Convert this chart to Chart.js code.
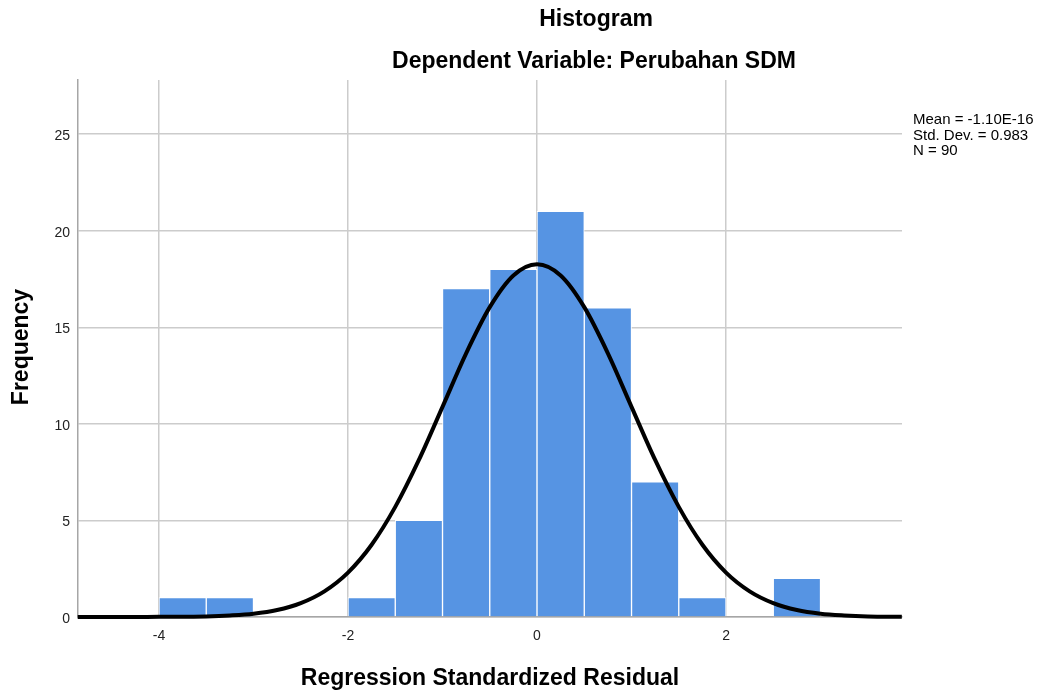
<!DOCTYPE html>
<html lang="en">
<head>
    <meta charset="UTF-8">
    <script src="https://cdn.jsdelivr.net/npm/chart.js@4.4.1/dist/chart.umd.min.js"></script>
    <title>Histogram</title>
    <style>
        html, body { margin: 0; padding: 0; background: #fff; }
        #wrap { width: 1051px; height: 691px; }
    </style>
</head>
<body>
    <div id="wrap">
        <canvas id="canvas" width="1051" height="691"></canvas>
    </div>
<script>

// histogram bins (centre of each 0.5 wide bin) and counts
const binCenters = [-3.75, -3.25, -2.75, -2.25, -1.75, -1.25, -0.75, -0.25, 0.25, 0.75, 1.25, 1.75, 2.25, 2.75]
const frequencies = [1, 1, 0, 0, 1, 5, 17, 18, 21, 16, 7, 1, 0, 2]

// normal curve
const curveX = [-4.86, -4.5, -4.25, -4, -3.75, -3.5, -3.25, -3, -2.75, -2.5, -2.25, -2, -1.75, -1.5, -1.25, -1, -0.75, -0.5, -0.25,
                0, 0.25, 0.5, 0.75, 1, 1.25, 1.5, 1.75, 2, 2.25, 2.5, 2.75, 3, 3.25, 3.5, 3.86]
const curveY = [0, 0, 0, 0.01, 0.01, 0.03, 0.08, 0.17, 0.36, 0.72, 1.33, 2.30, 3.74, 5.70, 8.13, 10.88, 13.65, 16.04, 17.68,
                18.26, 17.68, 16.04, 13.65, 10.88, 8.13, 5.70, 3.74, 2.30, 1.33, 0.72, 0.36, 0.17, 0.08, 0.03, 0.01]

const xTicks = [-4, -2, 0, 2]
const yTicks = [0, 5, 10, 15, 20, 25]

const statsLines = ['Mean = -1.10E-16', 'Std. Dev. = 0.983', 'N = 90']

const FONT = "'Liberation Sans', Arial, sans-serif"

const textPlugin = {
    id: 'texts',
    afterDraw(chart) {
        const ctx = chart.ctx
        ctx.save()
        ctx.fillStyle = '#000'
        ctx.textAlign = 'center'
        ctx.textBaseline = 'alphabetic'
        ctx.font = 'bold 23px ' + FONT
        ctx.fillText('Histogram', 596, 26)
        ctx.fillText('Dependent Variable: Perubahan SDM', 594, 68)
        ctx.fillText('Regression Standardized Residual', 490, 685)

        ctx.save()
        ctx.translate(28, 347)
        ctx.rotate(-Math.PI / 2)
        ctx.fillText('Frequency', 0, 0)
        ctx.restore()

        ctx.textAlign = 'left'
        ctx.font = '15px ' + FONT
        statsLines.forEach((s, i) => ctx.fillText(s, 913, 124 + i * 15.5))
        ctx.restore()
    }
}

window.onload = () => {
    let myChart = document.getElementById('canvas')
    let histChart = new Chart(myChart, {
        type: 'bar',
        data: {
            datasets: [{
                type: 'line',
                label: 'Normal',
                data: curveX.map((x, i) => ({ x: x, y: curveY[i] })),
                borderColor: '#000',
                borderWidth: 4,
                pointRadius: 0,
                cubicInterpolationMode: 'monotone',
                fill: false,
                clip: false,
                order: 0
            }, {
                type: 'bar',
                label: 'Frequency',
                data: binCenters.map((x, i) => ({ x: x, y: frequencies[i] })),
                backgroundColor: '#5694e3',
                borderColor: '#ffffff',
                borderWidth: 1,
                categoryPercentage: 1.0,
                barPercentage: 1.0,
                order: 1
            }]
        },
        options: {
            responsive: false,
            animation: false,
            layout: { padding: { top: 80, right: 149, left: 0, bottom: 0 } },
            plugins: {
                legend: { display: false },
                title: { display: false },
                tooltip: { enabled: false }
            },
            scales: {
                x: {
                    type: 'linear',
                    min: -4.857,
                    max: 3.862,
                    offset: false,
                    afterBuildTicks: axis => { axis.ticks = xTicks.map(v => ({ value: v })) },
                    afterFit: scale => { scale.height = 74 },
                    grid: { color: '#cccccc', lineWidth: 1.5, drawTicks: false, offset: false },
                    border: { color: '#a6a6a6', width: 1.5 },
                    ticks: { color: '#222', font: { family: FONT, size: 14 }, padding: 11 }
                },
                y: {
                    min: 0,
                    max: 27.8,
                    afterBuildTicks: axis => { axis.ticks = yTicks.map(v => ({ value: v })) },
                    afterFit: scale => { scale.width = 78 },
                    grid: { color: '#cccccc', lineWidth: 1.5, drawTicks: false },
                    border: { color: '#a6a6a6', width: 1.5 },
                    ticks: { color: '#222', font: { family: FONT, size: 14 }, padding: 8, labelOffset: 2 }
                }
            }
        },
        plugins: [textPlugin]
    })
}

</script>
</body>
</html>
